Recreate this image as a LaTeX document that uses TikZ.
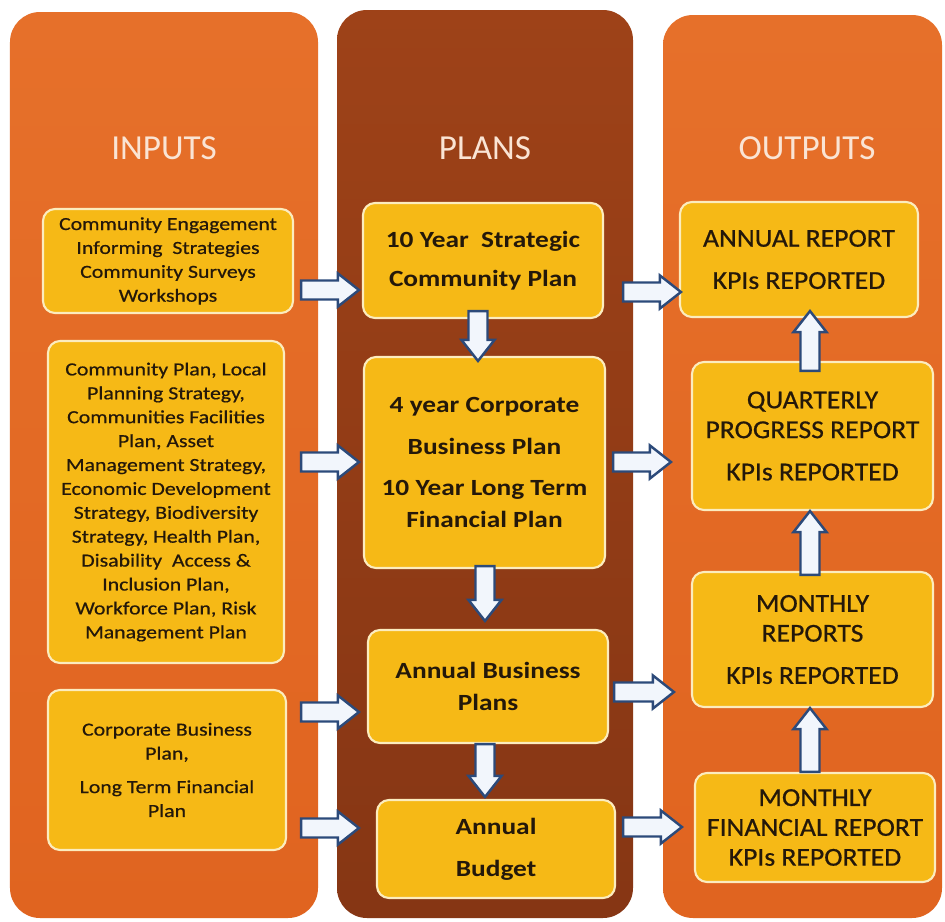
\documentclass[tikz,border=0pt]{standalone}
\usepackage{fontspec}
\setmainfont{Carlito}
\newfontfamily\boxfont{Carlito}[FakeStretch=1.18]
\newfontfamily\infont{Carlito}[FakeStretch=1.18, FakeBold=0.6]
\newfontfamily\outfont{Carlito}[FakeStretch=1.07, FakeBold=0.6]
\usetikzlibrary{calc}

\definecolor{colorange}{RGB}{224,100,32}
\definecolor{colorangetop}{RGB}{230,112,42}
\definecolor{colbrown}{RGB}{134,54,20}
\definecolor{colbrowntop}{RGB}{158,66,24}
\definecolor{boxfill}{RGB}{246,185,22}
\definecolor{boxedge}{RGB}{252,236,190}
\definecolor{hdrtext}{RGB}{250,228,212}
\definecolor{arrowedge}{RGB}{44,74,122}
\definecolor{arrowfill}{RGB}{242,246,252}
\definecolor{inktext}{RGB}{36,24,10}

\tikzset{
  colbox/.style={rounded corners=0.6cm},
  hdr/.style={text=hdrtext, anchor=base, font=\fontsize{20}{24}\selectfont},
  stage/.style={draw=boxedge, line width=1.2pt, fill=boxfill, text=inktext,
    rounded corners=0.24cm, align=center, inner sep=0pt},
  inbox/.style={stage, font=\infont\fontsize{10.5}{13.6}\selectfont},
  planbox/.style={stage, font=\boxfont\bfseries\fontsize{13.2}{18}\selectfont},
  outbox/.style={stage, font=\outfont\fontsize{14.7}{17}\selectfont},
  blk/.style={draw=arrowedge, fill=arrowfill, line width=1.4pt, line join=miter}
}

\def\shaftw{0.19cm}
\def\headw{0.33cm}
\def\headlen{0.42cm}
\newcommand\blockarrow[2]{%
  \coordinate (bs) at #1; \coordinate (be) at #2;
  \coordinate (bh) at ($(be)!\headlen!(bs)$);
  \draw[blk] ($(bs)!\shaftw!90:(be)$) -- ($(bh)!\shaftw!-90:(bs)$)
    -- ($(bh)!\headw!-90:(bs)$) -- (be) -- ($(bh)!\headw!90:(bs)$)
    -- ($(bh)!\shaftw!90:(bs)$) -- ($(bs)!\shaftw!-90:(be)$) -- cycle;}

\begin{document}
\begin{tikzpicture}
	\useasboundingbox[fill=white] (0,0) rectangle (18.9,-18.44);
	
	% columns
	\shade[colbox, top color=colorangetop, bottom color=colorange] (0.2,-0.24) rectangle (6.36,-18.36);
	\shade[colbox, top color=colbrowntop, bottom color=colbrown] (6.74,-0.2) rectangle (12.66,-18.36);
	\shade[colbox, top color=colorangetop, bottom color=colorange] (13.26,-0.3) rectangle (18.84,-18.36);
	
	\node[hdr] (hin) at (3.28,-3.18) {INPUTS};
	\node[hdr] (hplan) at (9.7,-3.18) {PLANS};
	\node[hdr] (hout) at (16.14,-3.18) {OUTPUTS};
	
	% inputs
	\node[inbox, minimum width=5.0cm, minimum height=2.08cm] (l1) at (3.36,-5.22)
		{Community Engagement\\Informing\ \ Strategies\\Community Surveys\\Workshops};
	\node[inbox, minimum width=4.72cm, minimum height=6.44cm] (l2) at (3.32,-10.04)
		{Community Plan, Local\\Planning Strategy,\\Communities Facilities\\Plan, Asset\\Management Strategy,\\Economic Development\\Strategy, Biodiversity\\Strategy, Health Plan,\\Disability\ \ Access \&\\Inclusion Plan,\\Workforce Plan, Risk\\Management Plan};
	\node[inbox, minimum width=4.76cm, minimum height=3.2cm] (l3) at (3.34,-15.4)
		{Corporate Business\\Plan,\\[5.5pt]Long Term Financial\\Plan};
	
	% plans
	\node[planbox, minimum width=4.8cm, minimum height=2.3cm] (m1) at (9.66,-5.21)
		{10 Year\ \ Strategic\\[4pt]Community Plan};
	\node[planbox, minimum width=4.82cm, minimum height=4.22cm] (m2) at (9.69,-9.25)
		{4 year Corporate\\[5.5pt]Business Plan\\[5.5pt]10 Year Long Term\\Financial Plan};
	\node[planbox, minimum width=4.8cm, minimum height=2.26cm] (m3) at (9.76,-13.73)
		{Annual Business\\Plans};
	\node[planbox, minimum width=4.76cm, minimum height=1.96cm] (m4) at (9.92,-16.98)
		{Annual\\[6pt]Budget};
	
	% outputs
	\node[outbox, minimum width=4.76cm, minimum height=2.3cm] (r1) at (15.98,-5.19)
		{ANNUAL REPORT\\[7pt]KPIs REPORTED};
	\node[outbox, minimum width=4.82cm, minimum height=2.96cm] (r2) at (16.25,-8.72)
		{QUARTERLY\\PROGRESS REPORT\\[7pt]KPIs REPORTED};
	\node[outbox, minimum width=4.82cm, minimum height=2.7cm] (r3) at (16.25,-12.79)
		{MONTHLY\\REPORTS\\[7pt]KPIs REPORTED};
	\node[outbox, minimum width=4.8cm, minimum height=2.18cm] (r4) at (16.3,-16.55)
		{MONTHLY\\FINANCIAL REPORT\\KPIs REPORTED};
	
	% inputs to plans
	\blockarrow{($(l1.east |- 0,-5.8)+(0.14,0)$)}{($(m1.west |- 0,-5.8)+(-0.06,0)$)}
	\blockarrow{($(l2.east |- 0,-9.24)+(0.32,0)$)}{($(m2.west |- 0,-9.24)+(-0.08,0)$)}
	\blockarrow{($(l3.east |- 0,-14.24)+(0.28,0)$)}{($(m3.west |- 0,-14.24)+(-0.16,0)$)}
	\blockarrow{($(l3.east |- 0,-16.56)+(0.28,0)$)}{($(m4.west |- 0,-16.56)+(-0.34,0)$)}
	
	% plans to outputs
	\blockarrow{($(m1.east |- 0,-5.84)+(0.38,0)$)}{($(r1.west |- 0,-5.84)+(0.04,0)$)}
	\blockarrow{($(m2.east |- 0,-9.24)+(0.14,0)$)}{($(r2.west |- 0,-9.24)+(-0.4,0)$)}
	\blockarrow{($(m3.east |- 0,-13.84)+(0.1,0)$)}{($(r3.west |- 0,-13.84)+(-0.34,0)$)}
	\blockarrow{($(m4.east |- 0,-16.54)+(0.14,0)$)}{($(r4.west |- 0,-16.54)+(-0.24,0)$)}
	
	% down the plans
	\blockarrow{($(m1.south -| 9.56,0)+(0,0.16)$)}{($(m2.north -| 9.56,0)+(0,-0.1)$)}
	\blockarrow{($(m2.south -| 9.7,0)+(0,0.06)$)}{($(m3.north -| 9.7,0)+(0,0.16)$)}
	\blockarrow{(m3.south -| 9.7,0)}{($(m4.north -| 9.7,0)+(0,0.04)$)}
	
	% up the outputs
	\blockarrow{($(r2.north -| 16.2,0)+(0,-0.2)$)}{($(r1.south -| 16.2,0)+(0,0.14)$)}
	\blockarrow{($(r3.north -| 16.2,0)+(0,-0.08)$)}{(r2.south -| 16.2,0)}
	\blockarrow{(r4.north -| 16.2,0)}{(r3.south -| 16.2,0)}
\end{tikzpicture}
\end{document}
